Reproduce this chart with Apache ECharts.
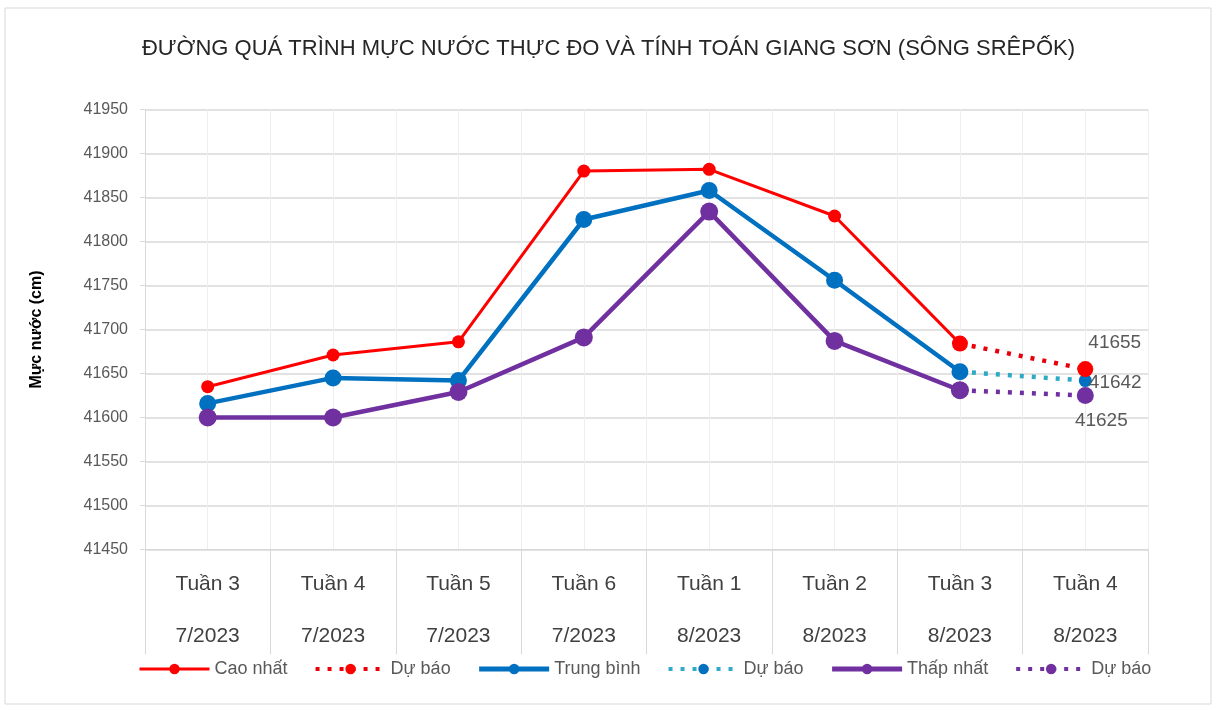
<!DOCTYPE html>
<html>
<head>
<meta charset="utf-8">
<script src="https://cdn.jsdelivr.net/npm/echarts@6/dist/echarts.min.js"></script>
<style>
html, body { margin: 0; padding: 0; background: #fff; }
#chart { width: 1217px; height: 710px; }
</style>
</head>
<body>
<div id="chart"></div>
<script>
// du lieu
var weeks = ["Tuần 3", "Tuần 4", "Tuần 5", "Tuần 6", "Tuần 1", "Tuần 2", "Tuần 3", "Tuần 4"];
var months = ["7/2023", "7/2023", "7/2023", "7/2023", "8/2023", "8/2023", "8/2023", "8/2023"];
var caoNhat = [41635, 41671, 41686, 41880, 41882, 41829, 41684, null];
var duBaoCao = [null, null, null, null, null, null, 41684, 41655];
var trungBinh = [41616, 41645, 41642, 41825, 41858, 41756, 41652, null];
var duBaoTB = [null, null, null, null, null, null, 41652, 41642];
var thapNhat = [41600, 41600, 41629, 41691, 41834, 41687, 41631, null];
var duBaoThap = [null, null, null, null, null, null, 41631, 41625];
var yTicks = { min: 41450, max: 41950, step: 50 };

var categories = weeks.map(function (w, i) { return w + "\n\n" + months[i]; });
var gray = "#595959";
var font = "Liberation Sans, sans-serif";

// nhan gia tri cuoi (diem du bao)
function endLabel(arr, label) {
  return arr.map(function (v, i) {
    if (i === arr.length - 1 && v != null) {
      return { value: v, label: Object.assign({ show: true, color: gray, fontSize: 19, fontFamily: font, formatter: "{c}" }, label) };
    }
    return v;
  });
}

var chart = echarts.init(document.getElementById("chart"));
var option = {
  animation: false,
  title: {
    text: "ĐƯỜNG QUÁ TRÌNH MỰC NƯỚC THỰC ĐO VÀ TÍNH TOÁN GIANG SƠN (SÔNG SRÊPỐK)",
    left: "center",
    top: 33,
    textStyle: { fontSize: 22, fontWeight: "normal", color: "#262626", fontFamily: font }
  },
  graphic: [{
    type: "rect",
    shape: { x: 5, y: 8, width: 1206, height: 696 },
    style: { fill: "none", stroke: "#D9D9D9", lineWidth: 1 },
    silent: true
  }],
  legend: {
    bottom: 27,
    left: 133,
    itemWidth: 70,
    itemHeight: 13,
    itemGap: 26,
    textStyle: { color: gray, fontSize: 18, fontFamily: font },
    formatter: function (name) { return name.trim(); },
    data: [
      { name: "Cao nhất", lineStyle: { width: 3 } },
      { name: "Dự báo", lineStyle: { width: 4 } },
      { name: "Trung bình", lineStyle: { width: 5 } },
      { name: "Dự báo ", lineStyle: { width: 4 } },
      { name: "Thấp nhất", lineStyle: { width: 5 } },
      { name: "Dự báo  ", lineStyle: { width: 4 } }
    ]
  },
  grid: { left: 145, right: 69, top: 109.5, bottom: 160.5 },
  xAxis: [{
    type: "category",
    data: categories,
    boundaryGap: true,
    axisLine: { show: true, lineStyle: { color: "#D9D9D9" } },
    axisTick: { show: true, alignWithLabel: false, interval: 0, length: 105, lineStyle: { color: "#D9D9D9" } },
    axisLabel: { color: "#404040", fontSize: 21, lineHeight: 26, margin: 22, fontFamily: font, interval: 0 },
    splitLine: { show: false }
  }, {
    type: "value",
    min: 0, max: 16, interval: 1,
    show: true,
    axisLine: { show: false }, axisTick: { show: false }, axisLabel: { show: false },
    splitLine: { show: true, lineStyle: { color: "#EEEEEE" } }
  }],
  yAxis: {
    type: "value",
    min: yTicks.min,
    max: yTicks.max,
    interval: yTicks.step,
    name: "Mực nước (cm)",
    nameLocation: "middle",
    nameRotate: 90,
    nameGap: 100,
    nameTextStyle: { color: "#000", fontSize: 16, fontWeight: "bold", fontFamily: font },
    axisLine: { show: true, lineStyle: { color: "#D9D9D9" } },
    axisLabel: { color: gray, fontSize: 16, margin: 17, fontFamily: font, formatter: function (v) { return String(v); } },
    splitLine: { lineStyle: { color: "#D9D9D9", width: 1.5 } }
  },
  series: [
    {
      name: "Cao nhất", type: "line", data: caoNhat, z: 5,
      symbol: "circle", symbolSize: 13,
      itemStyle: { color: "#FF0000" }, lineStyle: { color: "#FF0000", width: 3 }
    },
    {
      name: "Dự báo", type: "line", data: endLabel(duBaoCao, { position: "right", offset: [-10, -26] }), z: 4,
      symbol: "circle", symbolSize: 16,
      itemStyle: { color: "#FF0000" }, lineStyle: { color: "#E8000B", width: 4.5, type: [4, 8] }
    },
    {
      name: "Trung bình", type: "line", data: trungBinh, z: 3,
      symbol: "circle", symbolSize: 17,
      itemStyle: { color: "#0070C0" }, lineStyle: { color: "#0070C0", width: 4.5 }
    },
    {
      name: "Dự báo ", type: "line", data: endLabel(duBaoTB, { position: "right", offset: [-8, 2] }), z: 2,
      symbol: "circle", symbolSize: 13,
      itemStyle: { color: "#0070C0" }, lineStyle: { color: "#2EAAC6", width: 4.5, type: [4, 8] }
    },
    {
      name: "Thấp nhất", type: "line", data: thapNhat, z: 3,
      symbol: "circle", symbolSize: 18,
      itemStyle: { color: "#7030A0" }, lineStyle: { color: "#7030A0", width: 4.5 }
    },
    {
      name: "Dự báo  ", type: "line", data: endLabel(duBaoThap, { position: "bottom", offset: [16, 2] }), z: 2,
      symbol: "circle", symbolSize: 17,
      itemStyle: { color: "#7030A0" }, lineStyle: { color: "#7030A0", width: 4.5, type: [4, 8] }
    }
  ]
};
chart.setOption(option);
</script>
</body>
</html>
